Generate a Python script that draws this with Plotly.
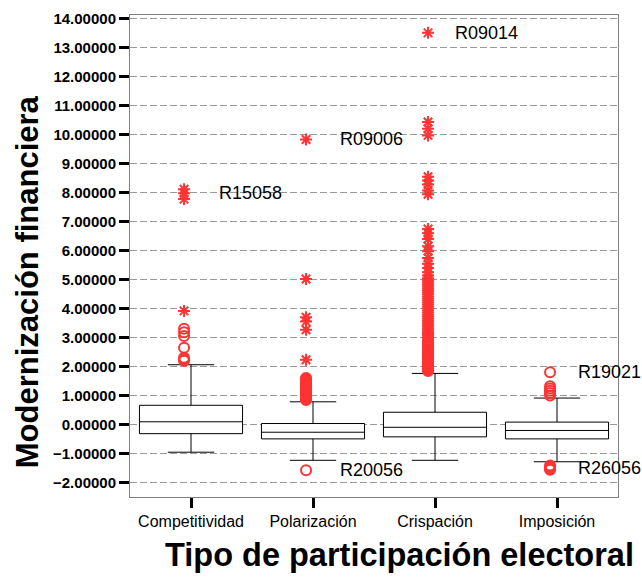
import plotly.graph_objects as go

# ---------------- data ----------------
categories = ["Competitividad", "Polarización", "Crispación", "Imposición"]

q1 = [-0.32, -0.50, -0.43, -0.50]
median = [0.09, -0.27, -0.10, -0.21]
q3 = [0.66, 0.03, 0.42, 0.08]
lower_whisker = [-0.96, -1.24, -1.24, -1.29]
upper_whisker = [2.06, 0.78, 1.76, 0.91]

# mild outliers (circles)
comp_mild = [2.20, 2.25, 2.30, 2.65, 3.05, 3.18, 3.30]
pol_mild = [-1.58, 0.84, 0.88, 0.92, 0.96, 1.00, 1.04, 1.08, 1.12, 1.16, 1.20,
            1.24, 1.28, 1.32, 1.36, 1.40, 1.44, 1.48, 1.52, 1.56, 1.60]
cri_mild = [1.84, 1.88, 1.92, 1.96, 2.00, 2.04, 2.08, 2.12, 2.16, 2.20, 2.24,
            2.28, 2.32, 2.36, 2.40, 2.45, 2.50, 2.55, 2.60, 2.66, 2.72, 2.78,
            2.85, 2.92]
imp_mild = [-1.57, -1.52, -1.47, -1.42, 1.00, 1.08, 1.16, 1.24, 1.32, 1.80]

# extreme outliers (asterisks)
comp_extreme = [3.92, 7.78, 7.98, 8.12]
pol_extreme = [2.23, 3.27, 3.55, 3.70, 5.02, 9.84]
cri_extreme = [3.00, 3.06, 3.12, 3.18, 3.24, 3.30, 3.37, 3.44, 3.51, 3.58, 3.65,
               3.72, 3.79, 3.86, 3.93, 4.00, 4.07, 4.14, 4.21, 4.28, 4.35, 4.42,
               4.49, 4.56, 4.63, 4.70, 4.77, 4.84, 4.91, 4.98, 5.05, 5.14, 5.25,
               5.40, 5.55, 5.75, 5.98, 6.15, 6.40, 6.60, 6.75,
               7.95, 8.08, 8.28, 8.42, 8.55, 9.98, 10.21, 10.44, 13.52]
imp_extreme = []

mild_outliers = [comp_mild, pol_mild, cri_mild, imp_mild]
extreme_outliers = [comp_extreme, pol_extreme, cri_extreme, imp_extreme]

# case labels: (category index, value, label)
label_cat = [0, 1, 2, 3, 3, 1]
label_val = [7.98, 9.84, 13.52, 1.80, -1.52, -1.58]
label_txt = ["R15058", "R09006", "R09014", "R19021", "R26056", "R20056"]

# ---------------- style ----------------
RED = "rgb(255,51,51)"
PT_OFFSET = -0.057          # SPSS draws outliers slightly left of box centre
label_xshift = [33, 32, 25, 26, 26, 32]
FONT = "Liberation Sans, Arial"

fig = go.Figure()

fig.add_trace(go.Box(
    x=list(range(len(categories))),
    q1=q1, median=median, q3=q3,
    lowerfence=lower_whisker, upperfence=upper_whisker,
    boxpoints=False,
    width=0.845,
    whiskerwidth=0.45,
    fillcolor="white",
    line=dict(color="black", width=1),
    showlegend=False,
    hoverinfo="skip",
))

for i, vals in enumerate(mild_outliers):
    if vals:
        fig.add_trace(go.Scatter(
            x=[i + PT_OFFSET] * len(vals), y=vals, mode="markers",
            marker=dict(symbol="circle-open", size=10, color=RED,
                        line=dict(color=RED, width=2)),
            showlegend=False, hoverinfo="skip"))

for i, vals in enumerate(extreme_outliers):
    if vals:
        fig.add_trace(go.Scatter(
            x=[i + PT_OFFSET] * len(vals), y=vals, mode="markers",
            marker=dict(symbol="asterisk-open", size=10, color=RED,
                        line=dict(color=RED, width=2)),
            showlegend=False, hoverinfo="skip"))

annotations = []
for c, v, t, xs in zip(label_cat, label_val, label_txt, label_xshift):
    annotations.append(dict(
        x=c + PT_OFFSET, y=v, xref="x", yref="y", text=t, showarrow=False,
        xanchor="left", yanchor="middle", xshift=xs,
        font=dict(family=FONT, size=18, color="black")))

annotations.append(dict(
    text="<b>Modernización financiera</b>", xref="paper", yref="paper",
    x=-0.211, y=0.4456, textangle=-90, showarrow=False,
    xanchor="center", yanchor="middle",
    font=dict(family=FONT, size=31, color="black")))
annotations.append(dict(
    text="<b>Tipo de participación electoral</b>", xref="paper", yref="paper",
    x=0.552, y=-0.121, showarrow=False, xanchor="center", yanchor="middle",
    font=dict(family=FONT, size=32.5, color="black")))

fig.update_layout(
    width=642, height=581,
    margin=dict(l=130, r=24, t=10, b=84),
    paper_bgcolor="white", plot_bgcolor="white",
    annotations=annotations,
    font=dict(family=FONT, color="black"),
)

fig.update_xaxes(
    range=[-0.5, 3.5],
    tickmode="array", tickvals=list(range(len(categories))), ticktext=categories,
    tickfont=dict(size=16, color="black"),
    ticks="outside", ticklen=10, tickwidth=3, tickcolor="black",
    showline=True, linecolor="#808080", linewidth=1, mirror=True,
    showgrid=False, zeroline=False,
)
fig.update_yaxes(
    range=[-2.507, 14.137],
    tick0=0, dtick=1, tickformat=".5f",
    tickfont=dict(size=15, color="black", family=FONT, weight="bold"),
    ticks="outside", ticklen=10, tickwidth=3, tickcolor="black",
    showline=True, linecolor="#808080", linewidth=1, mirror=True,
    showgrid=True, gridcolor="#9a9a9a", gridwidth=1, griddash="7px,3px",
    zeroline=False,
)

# remove the default 8px page margin so the figure fills the window exactly
fig.write_html(
    "out.html",
    config={"displayModeBar": False},
    post_script=("document.body.style.margin='0';"
                 "document.body.style.overflow='hidden';"
                 "document.documentElement.style.overflow='hidden';"),
)
